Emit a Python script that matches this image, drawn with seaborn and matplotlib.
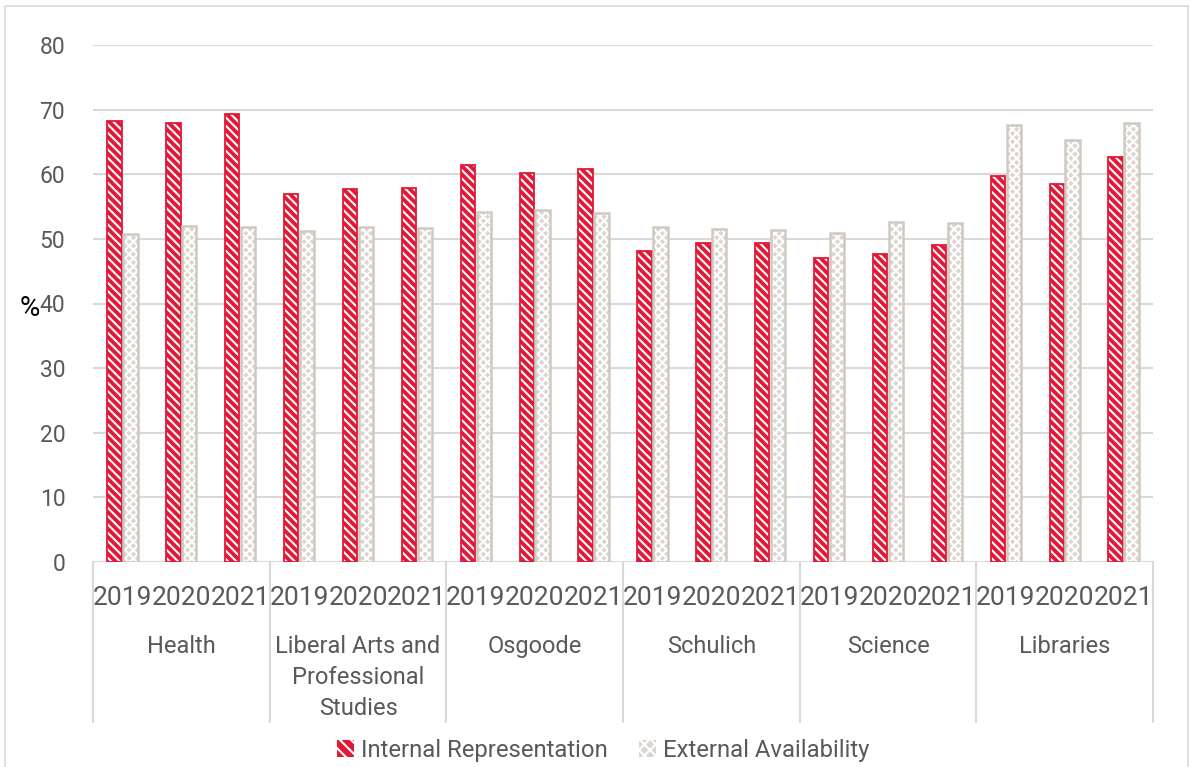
import matplotlib
matplotlib.use("Agg")
import matplotlib.pyplot as plt
from matplotlib.patches import Patch, Rectangle
import pandas as pd
import seaborn as sns

# ---- data ----
faculties = ["Health", "Liberal Arts and\nProfessional\nStudies", "Osgoode",
             "Schulich", "Science", "Libraries"]
years = ["2019", "2020", "2021"]
series = ["Internal Representation", "External Availability"]
internal = [68.2, 68.0, 69.3, 57.0, 57.7, 57.9, 61.4, 60.2, 60.8,
            48.2, 49.3, 49.3, 47.0, 47.6, 49.0, 59.8, 58.5, 62.6]
external = [50.7, 52.0, 51.8, 51.2, 51.8, 51.7, 54.2, 54.5, 54.0,
            51.8, 51.5, 51.3, 50.9, 52.6, 52.4, 67.6, 65.3, 68.0]
y_ticks = [0, 10, 20, 30, 40, 50, 60, 70, 80]

# ---- styling ----
RED = "#E31837"
GREY_FILL = "#DCD6D0"
GREY_EDGE = "#D0C9C2"
TEXT = "#595959"
GRID = "#D9D9D9"
FONT = "Roboto"

sns.set_theme(style="white")
plt.rcParams["font.family"] = [FONT, "DejaVu Sans"]
plt.rcParams["hatch.linewidth"] = 1.5

slots = [f"{f}|{y}" for f in faculties for y in years]
df = pd.DataFrame({
    "slot": slots * 2,
    "value": internal + external,
    "series": [series[0]] * len(slots) + [series[1]] * len(slots),
})

fig = plt.figure(figsize=(11.9, 7.67), dpi=100)
ax = fig.add_axes([93 / 1190, 1 - 562 / 767, 1060 / 1190, 517 / 767])

sns.barplot(data=df, x="slot", y="value", hue="series", order=slots,
            hue_order=series, palette=[RED, GREY_FILL], saturation=1,
            width=0.54, gap=0.1, legend=False, ax=ax)

# hatched fills with separate outline colours
styles = [
    dict(face=RED, hatch="\\\\\\\\", edge=RED, lw=1.3),
    dict(face=GREY_FILL, hatch="xxxx", edge=GREY_EDGE, lw=1.8),
]
for container, st in zip(ax.containers, styles):
    for bar in container:
        bar.set_facecolor(st["face"])
        bar.set_edgecolor("white")
        bar.set_hatch(st["hatch"])
        bar.set_linewidth(0)
        ax.add_patch(Rectangle(bar.get_xy(), bar.get_width(), bar.get_height(),
                               fill=False, edgecolor=st["edge"],
                               linewidth=st["lw"], zorder=bar.get_zorder() + 0.1))

ax.set_xlim(-0.5, len(slots) - 0.5)
ax.set_ylim(0, 80)
ax.set_yticks(y_ticks)
ax.set_yticklabels([str(t) for t in y_ticks])
ax.set_xticks(range(len(slots)))
ax.set_xticklabels(years * len(faculties))
ax.tick_params(axis="x", length=0, pad=17, labelsize=19, labelcolor=TEXT)
ax.tick_params(axis="y", length=0, pad=20, labelsize=16.5, labelcolor=TEXT)
ax.set_xlabel("")
ax.set_ylabel("%", rotation=0, fontsize=20, color="black")
ax.yaxis.set_label_coords(-0.06, 0.465)

ax.yaxis.grid(True, color=GRID, linewidth=1.5)
ax.set_axisbelow(True)
for s in ax.spines.values():
    s.set_visible(False)

# faculty grouping below the year labels
xt = ax.get_xaxis_transform()
n_years = len(years)
for i in range(len(faculties) + 1):
    xb = i * n_years - 0.5
    ax.plot([xb, xb], [0, -0.309], transform=xt, clip_on=False,
            color=GRID, linewidth=1.5)
for i, fac in enumerate(faculties):
    xc = i * n_years + (n_years - 1) / 2
    ax.text(xc, -0.141, fac, transform=xt, ha="center", va="top",
            fontsize=17, color=TEXT, linespacing=1.45)

# legend
handles = [
    Patch(facecolor=RED, edgecolor="white", hatch="\\\\\\", linewidth=0),
    Patch(facecolor=GREY_FILL, edgecolor="white", hatch="xxx", linewidth=0),
]
fig.legend(handles, series, loc="center", bbox_to_anchor=(0.507, 1 - 750 / 767),
           ncol=2, frameon=False, fontsize=17.2, labelcolor=TEXT,
           handlelength=0.7, handleheight=0.7, handletextpad=0.3,
           columnspacing=1.3)

# thin frame around the chart
fig.add_artist(Rectangle((5 / 1190, -0.01), 1183 / 1190, 1 - 6 / 767 + 0.01,
                         transform=fig.transFigure, fill=False,
                         edgecolor=GRID, linewidth=1.2))

fig.savefig("out.png", dpi=100)
